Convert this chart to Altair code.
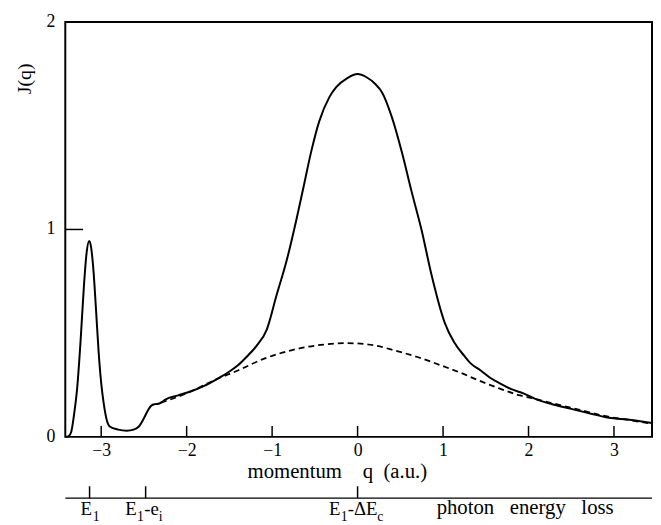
import altair as alt
import pandas as pd

# ---- data ----
q_solid = [-3.42, -3.38, -3.35, -3.32, -3.28, -3.24, -3.2, -3.17, -3.14, -3.12, -3.09, -3.06,
           -3.03, -3.0, -2.97, -2.94, -2.9, -2.8, -2.7, -2.62, -2.56, -2.5, -2.45, -2.41,
           -2.37, -2.33, -2.29, -2.25, -2.1, -1.95, -1.8, -1.64, -1.5, -1.4, -1.3, -1.18,
           -1.06, -0.95, -0.83, -0.72, -0.64, -0.54, -0.45, -0.33, -0.25, -0.12, 0.0, 0.1,
           0.21, 0.285, 0.4, 0.52, 0.63, 0.75, 0.86, 1.02, 1.13, 1.25, 1.33, 1.44, 1.55,
           1.67, 1.8, 1.94, 2.1, 2.3, 2.5, 2.7, 2.94, 3.18, 3.445]
j_solid = [0.0, 0.004, 0.025, 0.1, 0.24, 0.47, 0.74, 0.89, 0.945, 0.92, 0.8, 0.61,
           0.41, 0.26, 0.16, 0.09, 0.05, 0.035, 0.03, 0.035, 0.05, 0.09, 0.13, 0.152,
           0.158, 0.16, 0.168, 0.18, 0.2, 0.22, 0.245, 0.28, 0.315, 0.345, 0.385, 0.44,
           0.52, 0.68, 0.85, 1.04, 1.19, 1.38, 1.52, 1.638, 1.686, 1.73, 1.749, 1.735,
           1.70, 1.662, 1.543, 1.37, 1.186, 0.995, 0.79, 0.55, 0.456, 0.39, 0.352, 0.32, 0.285,
           0.257, 0.23, 0.21, 0.18, 0.155, 0.135, 0.115, 0.092, 0.083, 0.067]

q_dash = [-2.3, -2.0, -1.64, -1.4, -1.1, -0.8, -0.6, -0.35, -0.14, 0.1, 0.21, 0.44, 0.7,
          0.98, 1.2, 1.4, 1.65, 1.9, 2.06, 2.3, 2.6, 2.9, 3.2, 3.445]
j_dash = [0.165, 0.21, 0.28, 0.32, 0.376, 0.415, 0.433, 0.447, 0.452, 0.447, 0.44, 0.416,
          0.385, 0.344, 0.31, 0.275, 0.235, 0.2, 0.185, 0.16, 0.13, 0.1, 0.08, 0.063]

x_tick_values = [-3, -2, -1, 0, 1, 2, 3]
y_tick_values = [0, 1, 2]
y_tick_labels = ["0", "1", "2"]
y_inner_ticks = [1]

# lower "photon energy loss" scale (positions expressed in momentum units)
energy_tick_q = [-3.136, -2.48, 0.0]
main_text = ["E", "E", "-e", "E", "-\u0394E"]
main_q = [-3.243, -2.717, -2.496, -0.335, -0.116]
sub_text = ["1", "1", "i", "1", "c"]
sub_q = [-3.10, -2.58, -2.325, -0.196, 0.231]
caption_text = ["photon\u00a0\u00a0\u00a0energy\u00a0\u00a0\u00a0loss"]
caption_q = [0.925]

# ---- chart ----
W, H = 594, 420
FONT = "Liberation Serif"
xs = alt.Scale(domain=[-3.42, 3.445], nice=False, zero=False)
ys = alt.Scale(domain=[0, 2], nice=False)

df_solid = pd.DataFrame({"q": q_solid, "J": j_solid})
df_dash = pd.DataFrame({"q": q_dash, "J": j_dash})

x_axis = alt.Axis(values=x_tick_values, format="d", tickSize=0, domain=False, grid=False,
                  labelOverlap=False, labelFont=FONT, labelFontSize=18, labelColor="black",
                  labelPadding=5,
                  title="momentum\u00a0\u00a0\u00a0\u00a0q\u00a0\u00a0(a.u.)",
                  titleFont=FONT, titleFontSize=21, titleFontWeight="normal",
                  titleColor="black", titleAlign="left", titleAnchor="start",
                  titleX=184, titleY=41, titleBaseline="alphabetic")
y_axis = alt.Axis(values=y_tick_values, labels=False, ticks=False, domain=False, grid=False,
                  title="J(q)", titleFont=FONT, titleFontSize=20, titleFontWeight="normal",
                  titleColor="black", titleAngle=270, titleAlign="center",
                  titleBaseline="middle", titleX=-41, titleY=57)

X = alt.X("q:Q", scale=xs, axis=x_axis)
Y = alt.Y("J:Q", scale=ys, axis=y_axis)

solid = alt.Chart(df_solid).mark_line(color="black", strokeWidth=2, interpolate="monotone").encode(
    x=X, y=Y)
dashed = alt.Chart(df_dash).mark_line(color="black", strokeWidth=1.8, strokeDash=[6, 4],
                                       interpolate="monotone").encode(x=X, y=Y)

xticks = alt.Chart(pd.DataFrame({"q": x_tick_values})).mark_rule(color="black", strokeWidth=1.5).encode(
    x=X, y=alt.value(H), y2=alt.value(H - 11))
yticks = alt.Chart(pd.DataFrame({"J": y_inner_ticks})).mark_rule(color="black", strokeWidth=1.5).encode(
    y=Y, x=alt.value(0), x2=alt.value(18))
ylabels = alt.Chart(pd.DataFrame({"J": y_tick_values, "t": y_tick_labels})).mark_text(
    font=FONT, fontSize=18, align="right", baseline="middle", color="black").encode(
    y=Y, x=alt.value(-10), text="t:N")

LINE_Y = 482
eline = alt.Chart(pd.DataFrame({"q": [0]})).mark_rule(color="black", strokeWidth=1.5).encode(
    x=alt.value(0), x2=alt.value(W), y=alt.value(LINE_Y))
eticks = alt.Chart(pd.DataFrame({"q": energy_tick_q})).mark_rule(color="black", strokeWidth=1.5).encode(
    x=X, y=alt.value(LINE_Y), y2=alt.value(LINE_Y - 12))

main_lbl = alt.Chart(pd.DataFrame({"q": main_q, "t": main_text})).mark_text(
    font=FONT, fontSize=19, align="left", baseline="alphabetic", color="black").encode(
    x=X, y=alt.value(499), text="t:N")
sub_lbl = alt.Chart(pd.DataFrame({"q": sub_q, "t": sub_text})).mark_text(
    font=FONT, fontSize=14, align="left", baseline="alphabetic", color="black").encode(
    x=X, y=alt.value(505), text="t:N")
caption = alt.Chart(pd.DataFrame({"q": caption_q, "t": caption_text})).mark_text(
    font=FONT, fontSize=21, align="left", baseline="alphabetic", color="black").encode(
    x=X, y=alt.value(498), text="t:N")

chart = alt.layer(solid, dashed, xticks, yticks, ylabels, eline, eticks, main_lbl, sub_lbl,
                  caption).properties(
    width=W, height=H,
    autosize=alt.AutoSizeParams(type="none"),
    padding={"left": 58, "top": 11, "right": 1, "bottom": 86},
    background="white",
).configure_view(stroke="black", strokeWidth=2)

chart.save("out.html", embed_options={"renderer": "svg", "actions": False})
